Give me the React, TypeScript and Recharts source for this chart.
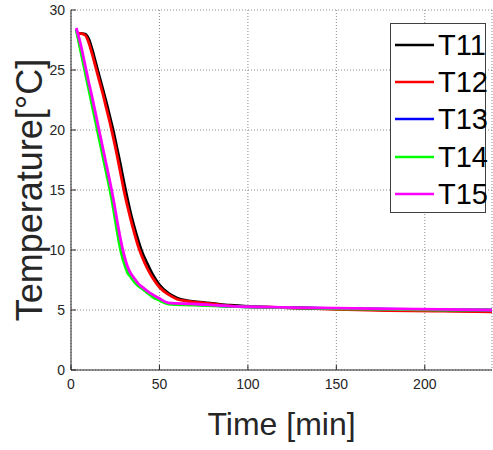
import { LineChart, Line, XAxis, YAxis, CartesianGrid, Legend } from "recharts";

const times = [3, 5, 8, 10, 12, 14, 16, 18, 20, 22, 24, 26, 28, 30, 32, 34, 36, 38, 40, 43, 46, 50, 55, 60, 65, 70, 80, 90, 100, 120, 150, 180, 210, 238];

const t11 = [28.0, 28.05, 28.0, 27.6, 26.7, 25.6, 24.5, 23.4, 22.3, 21.1, 19.9, 18.5, 17.1, 15.6, 14.2, 12.9, 11.8, 10.8, 9.9, 8.9, 8.0, 7.1, 6.4, 6.0, 5.8, 5.7, 5.55, 5.4, 5.3, 5.2, 5.1, 5.0, 4.95, 4.9];
const t12 = [28.0, 28.05, 27.9, 27.3, 26.3, 25.2, 24.1, 23.0, 21.8, 20.6, 19.3, 17.9, 16.4, 14.9, 13.6, 12.4, 11.3, 10.3, 9.5, 8.5, 7.7, 6.9, 6.3, 5.9, 5.75, 5.65, 5.5, 5.35, 5.28, 5.2, 5.05, 4.95, 4.9, 4.85];
const t13 = [28.4, 27.1, 25.1, 23.7, 22.3, 20.9, 19.5, 18.1, 16.7, 15.3, 13.8, 12.0, 10.4, 9.2, 8.3, 7.8, 7.4, 7.1, 6.85, 6.5, 6.2, 5.85, 5.55, 5.5, 5.47, 5.45, 5.38, 5.31, 5.26, 5.21, 5.12, 5.07, 5.02, 5.0];
const t14 = [28.3, 26.9, 24.8, 23.4, 22.0, 20.6, 19.2, 17.8, 16.4, 15.0, 13.4, 11.6, 10.0, 8.9, 8.1, 7.7, 7.3, 7.0, 6.8, 6.45, 6.1, 5.8, 5.5, 5.45, 5.42, 5.4, 5.35, 5.3, 5.25, 5.2, 5.1, 5.05, 5.0, 5.0];
const t15 = [28.5, 27.4, 25.4, 24.0, 22.7, 21.3, 19.9, 18.5, 17.1, 15.7, 14.2, 12.5, 10.9, 9.6, 8.6, 8.0, 7.6, 7.2, 6.95, 6.6, 6.3, 5.95, 5.6, 5.55, 5.52, 5.5, 5.4, 5.32, 5.27, 5.22, 5.15, 5.1, 5.05, 5.0];

const xTicks = [0, 50, 100, 150, 200];
const yTicks = [0, 5, 10, 15, 20, 25, 30];

const series = [
  { key: "T11", color: "#000000" },
  { key: "T12", color: "#ff0000" },
  { key: "T13", color: "#0000ff" },
  { key: "T14", color: "#00ff00" },
  { key: "T15", color: "#ff00ff" },
];

const data = times.map((t, i) => ({ t, T11: t11[i], T12: t12[i], T13: t13[i], T14: t14[i], T15: t15[i] }));

const font = "'Liberation Sans', Arial, sans-serif";
const tickStyle = { fontSize: 14, fill: "#262626", fontFamily: font };

function LegendBox() {
  return (
    <div style={{ width: 96, height: 190, boxSizing: "border-box", border: "1.5px solid #404040", background: "#fff", paddingTop: 2, fontFamily: font }}>
      {series.map(s => (
        <div key={s.key} style={{ height: 37.3, display: "flex", alignItems: "center" }}>
          <svg width={47} height={10} style={{ flex: "none" }}>
            <line x1={4} y1={5} x2={43} y2={5} stroke={s.color} strokeWidth={2.5} />
          </svg>
          <span style={{ fontSize: 29, lineHeight: "30px", color: "#000" }}>{s.key}</span>
        </div>
      ))}
    </div>
  );
}

const noLabel = () => <g />;

export default function App() {
  return (
    <div style={{ position: "absolute", left: 0, top: 0, background: "#fff" }}>
      <LineChart width={493} height={450} data={data} margin={{ top: 10, right: 1, bottom: 0, left: 0 }}>
        <CartesianGrid stroke="#8a8a8a" strokeDasharray="1 2" />
        <XAxis
          dataKey="t"
          type="number"
          domain={[0, 238]}
          ticks={xTicks}
          height={80}
          tick={tickStyle}
          tickSize={-5}
          tickMargin={14}
          stroke="#262626"
          label={{ value: "Time [min]", position: "center", dy: 14, style: { fontSize: 32, fill: "#262626", fontFamily: font } }}
        />
        <XAxis xAxisId="top" orientation="top" type="number" domain={[0, 238]} ticks={xTicks} height={0} tick={noLabel} tickSize={-5} stroke="#262626" />
        <YAxis
          type="number"
          domain={[0, 30]}
          ticks={yTicks}
          width={71}
          tick={tickStyle}
          tickSize={-5}
          tickMargin={11}
          stroke="#262626"
          label={{ value: "Temperature[°C]", angle: -90, position: "center", dx: -6, style: { fontSize: 36, fill: "#262626", fontFamily: font } }}
        />
        <YAxis yAxisId="right" orientation="right" type="number" domain={[0, 30]} ticks={yTicks} width={0} tick={noLabel} tickSize={-5} stroke="#262626" />
        {series.map(s => (
          <Line key={s.key} dataKey={s.key} stroke={s.color} strokeWidth={2.8} dot={false} type="monotone" isAnimationActive={false} />
        ))}
        <Legend content={<LegendBox />} layout="horizontal" verticalAlign="middle" align="center" wrapperStyle={{ top: 23, left: 390, width: 96, height: 190 }} />
      </LineChart>
    </div>
  );
}
